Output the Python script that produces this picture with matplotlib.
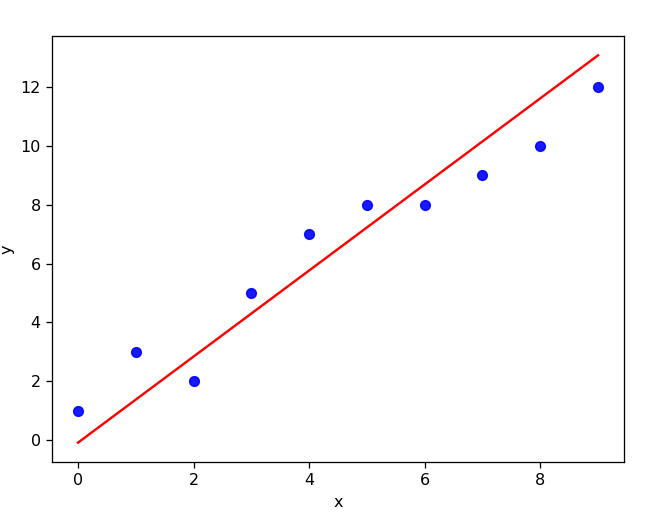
import matplotlib
matplotlib.use("Agg")
import matplotlib.pyplot as plt
import numpy as np

# data points
x = np.arange(10)
y = [1, 3, 2, 5, 7, 8, 8, 9, 10, 12]

# fitted line
slope = 1.461
intercept = -0.08

dpi = 115
fig = plt.figure(figsize=(664 / dpi, 518 / dpi), dpi=dpi)
ax = fig.add_axes([52 / 664, (518 - 462) / 518, 572 / 664, 426 / 518])

ax.scatter(x, y, color='blue', alpha=0.9)
ax.plot(x, slope * x + intercept, color='red')

ax.set_xlabel('x')
ax.set_ylabel('y')

fig.savefig('out.png', dpi=dpi)
